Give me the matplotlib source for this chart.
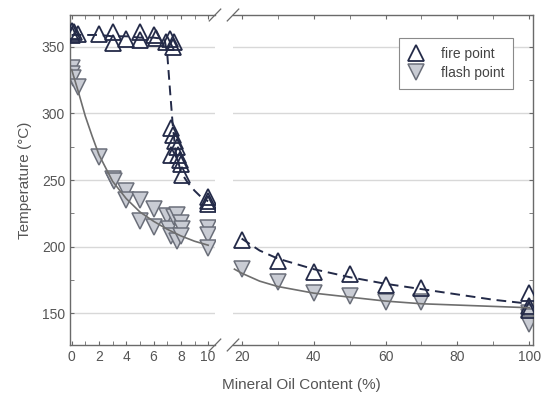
import matplotlib.pyplot as plt

plt.rcParams['font.family'] = ['Liberation Sans', 'DejaVu Sans']

# ---- data ----
# fire point, 0-10 %
fire_x_lo = [0, 0, 0.2, 0.5, 2, 3, 3, 4, 5, 5, 6, 6.2, 6.9, 7.2, 7.5, 7.45,
             7.3, 7.45, 7.6, 7.7, 7.3, 7.8, 7.9, 8.0, 8.05, 10, 10, 10]
fire_y_lo = [362, 359, 361, 360, 360, 361, 353, 356, 361, 355, 359, 357, 354, 356, 354, 350,
             289, 284, 279, 275, 269, 269, 265, 262, 254, 237, 234, 232]
# flash point, 0-10 %
flash_x_lo = [0, 0, 0.1, 0.5, 2, 3, 3.1, 4, 4, 5, 5, 6, 6, 7, 7.1, 7.3,
              7.5, 7.7, 7.7, 8, 8.05, 8.0, 10, 10, 10]
flash_y_lo = [334, 330, 327, 320, 267, 251, 249, 242, 235, 235, 219, 228, 215, 223, 213, 208,
              222, 204, 224, 218, 213, 208, 214, 209, 199]
# 20-100 %
fire_x_hi = [20, 30, 40, 50, 60, 70, 100, 100, 100]
fire_y_hi = [205, 189, 181, 179, 171, 169, 165, 155, 152]
flash_x_hi = [20, 30, 40, 50, 60, 70, 100, 100, 100]
flash_y_hi = [183, 173, 165, 163, 158, 158, 150, 147, 142]

# fitted trend lines
fire_fit_x_lo = [0, 1, 2, 3, 4, 5, 6, 6.8, 7.0, 7.2, 7.4, 7.6, 8.0, 8.5, 9, 9.5, 10]
fire_fit_y_lo = [359, 359, 359, 358, 358, 357, 357, 356, 345, 318, 292, 272, 256, 248, 242, 237, 234]
flash_fit_x_lo = [0, 0.5, 1, 1.5, 2, 3, 4, 5, 6, 7, 8, 9, 10]
flash_fit_y_lo = [333, 316, 298, 283, 269, 249, 236, 226, 219, 213, 208, 204, 201]
fire_fit_x_hi = [20, 25, 30, 40, 50, 60, 70, 80, 90, 100]
fire_fit_y_hi = [206, 197, 191, 183, 177, 172, 168, 164, 160, 157]
flash_fit_x_hi = [18, 20, 25, 30, 40, 50, 60, 70, 80, 90, 100]
flash_fit_y_hi = [183, 180, 174, 170, 165, 162, 159, 157, 156, 155, 154]

fire_col = '#232a48'
flash_edge = '#6b6f7a'
flash_fill = '#c9ccd4'
fit_flash = '#6e6e6e'
txt = '#555555'

fig = plt.figure(figsize=(5.41, 3.94), dpi=100)
ax1 = fig.add_axes([70 / 541, 1 - 345 / 394, 145 / 541, 330 / 394])
ax2 = fig.add_axes([233 / 541, 1 - 345 / 394, 300 / 541, 330 / 394], sharey=ax1)

fire_kw = dict(ls='none', marker='^', ms=11, mfc='none', mec=fire_col, mew=1.3)
flash_kw = dict(ls='none', marker='v', ms=11, mfc=flash_fill, mec=flash_edge, mew=1.1)

for ax, fx, fy, gx, gy, ffx, ffy, gfx, gfy in [
        (ax1, fire_x_lo, fire_y_lo, flash_x_lo, flash_y_lo,
         fire_fit_x_lo, fire_fit_y_lo, flash_fit_x_lo, flash_fit_y_lo),
        (ax2, fire_x_hi, fire_y_hi, flash_x_hi, flash_y_hi,
         fire_fit_x_hi, fire_fit_y_hi, flash_fit_x_hi, flash_fit_y_hi)]:
    ax.yaxis.grid(True, color='#d8d8d8', lw=1.0, zorder=0)
    ax.plot(gx, gy, label='flash point', zorder=2, **flash_kw)
    ax.plot(fx, fy, label='fire point', zorder=3, **fire_kw)
    ax.plot(gfx, gfy, color=fit_flash, lw=1.2, zorder=4)
    ax.plot(ffx, ffy, color=fire_col, lw=1.4, ls=(0, (5, 3)), zorder=4)
    ax.set_axisbelow(True)
    for s in ax.spines.values():
        s.set_color('#6a6a6a')
        s.set_linewidth(1.0)
    ax.tick_params(which='both', direction='in', top=True, colors='#6a6a6a',
                   labelcolor=txt, labelsize=10, length=3)

ax1.set_xlim(-0.12, 10.5)
ax2.set_xlim(17.6, 101)
ax1.set_ylim(126, 374)

ax1.set_xticks([0, 2, 4, 6, 8, 10])
ax1.set_xticks([1, 3, 5, 7, 9], minor=True)
ax2.set_xticks([20, 40, 60, 80, 100])
ax2.set_xticks([30, 50, 70, 90], minor=True)
ax1.set_yticks([150, 200, 250, 300, 350])
ax1.set_yticks([175, 225, 275, 325], minor=True)

ax1.spines['right'].set_visible(False)
ax2.spines['left'].set_visible(False)
ax1.tick_params(which='both', right=False)
ax2.tick_params(which='both', left=False, labelleft=False, right=True)

# break marks
d = 0.018
for ax, xb in [(ax1, 1.0), (ax2, 0.0)]:
    kw = dict(transform=ax.transAxes, color='#6a6a6a', lw=0.9, clip_on=False)
    w = d * (145 / 330) / (ax.get_position().width * 541 / 330) * 2.2
    for yb in (0.0, 1.0):
        ax.plot([xb - w, xb + w], [yb - d, yb + d], **kw)

# legend
h = [ax2.lines[1], ax2.lines[0]]
leg = ax2.legend(h, ['fire point', 'flash point'], loc='upper right',
                 bbox_to_anchor=(0.955, 0.95), fancybox=False, framealpha=1,
                 edgecolor='#8a8a8a', fontsize=10, handlelength=1.2,
                 handletextpad=1.2, borderpad=0.6, labelspacing=0.4)
leg.get_frame().set_linewidth(0.8)
for t in leg.get_texts():
    t.set_color('#444444')

fig.text(301 / 541, 1 - 385 / 394, 'Mineral Oil Content (%)', ha='center', va='center',
         fontsize=11, color=txt)
fig.text(25 / 541, 1 - 180 / 394, 'Temperature (°C)', ha='center', va='center',
         rotation=90, fontsize=11, color=txt)

fig.savefig('out.png', dpi=100)
